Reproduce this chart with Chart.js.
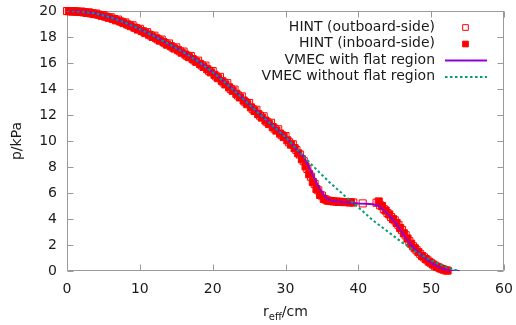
<!DOCTYPE html>
<html>
<head>
<meta charset="utf-8">
<script src="https://cdn.jsdelivr.net/npm/chart.js@4/dist/chart.umd.min.js"></script>
<style>
  html, body { margin: 0; padding: 0; background: #fff; }
  #wrap { width: 516px; height: 325px; }
</style>
</head>
<body>
<div id="wrap"><canvas id="chart"></canvas></div>
<script>
const xTicks = [0, 10, 20, 30, 40, 50, 60];
const yTicks = [0, 2, 4, 6, 8, 10, 12, 14, 16, 18, 20];

const seriesLabels = ['HINT (outboard-side)', 'HINT (inboard-side)', 'VMEC with flat region', 'VMEC without flat region'];

// HINT, outboard side (open squares)
const hintOutR = [0.0, 0.5, 1.0, 1.5, 2.0, 2.5, 3.0, 3.5, 4.0, 4.5, 5.0, 5.5, 6.0, 6.5, 7.0, 7.5, 8.0, 8.5, 9.0, 9.5,
  10.0, 10.5, 11.0, 11.5, 12.0, 12.5, 13.0, 13.5, 14.0, 14.5, 15.0, 15.5, 16.0, 16.5, 17.0, 17.5, 18.0, 18.5, 19.0, 19.5,
  20.0, 20.5, 21.0, 21.5, 22.0, 22.5, 23.0, 23.5, 24.0, 24.5, 25.0, 25.5, 26.0, 26.5, 27.0, 27.5, 28.0, 28.5, 29.0, 29.5,
  30.0, 30.5, 31.0, 31.5, 32.0, 32.5, 33.0, 33.5, 34.0, 34.5, 35.0, 35.5, 36.0, 36.6, 37.3, 38.0, 38.8, 39.3, 40.6,
  42.5, 43.0, 43.5, 44.0, 44.5, 45.0, 45.5, 46.0, 46.5, 47.0, 47.5, 48.0, 48.5, 49.0, 49.5, 50.0, 50.5, 51.0, 51.5, 52.0];
const hintOutP = [20.0, 19.98, 19.99, 19.95, 19.96, 19.9, 19.9, 19.82, 19.81, 19.7, 19.68, 19.55, 19.52, 19.38, 19.34, 19.17, 19.12, 18.93, 18.9, 18.68,
  18.63, 18.42, 18.37, 18.12, 18.1, 17.82, 17.8, 17.52, 17.5, 17.2, 17.2, 16.9, 16.88, 16.55, 16.54, 16.2, 16.18, 15.82, 15.8, 15.4,
  15.38, 14.96, 14.93, 14.5, 14.45, 14.0, 13.95, 13.5, 13.43, 12.98, 12.92, 12.45, 12.4, 11.95, 11.9, 11.45, 11.4, 10.95, 10.9, 10.45,
  10.38, 9.9, 9.75, 9.3, 8.95, 8.45, 7.85, 7.25, 6.7, 6.2, 5.8, 5.5, 5.4, 5.35, 5.32, 5.3, 5.28, 5.27, 5.2,
  5.25, 5.05, 4.75, 4.45, 4.15, 3.9, 3.55, 3.15, 2.75, 2.3, 1.9, 1.6, 1.3, 1.05, 0.82, 0.6, 0.42, 0.28, 0.15, 0.05];

// HINT, inboard side (filled squares)
const hintInR = [0.25, 0.75, 1.25, 1.75, 2.25, 2.75, 3.25, 3.75, 4.25, 4.75, 5.25, 5.75, 6.25, 6.75, 7.25, 7.75, 8.25, 8.75, 9.25, 9.75,
  10.25, 10.75, 11.25, 11.75, 12.25, 12.75, 13.25, 13.75, 14.25, 14.75, 15.25, 15.75, 16.25, 16.75, 17.25, 17.75, 18.25, 18.75, 19.25, 19.75,
  20.25, 20.75, 21.25, 21.75, 22.25, 22.75, 23.25, 23.75, 24.25, 24.75, 25.25, 25.75, 26.25, 26.75, 27.25, 27.75, 28.25, 28.75, 29.25, 29.75,
  30.25, 30.75, 31.25, 31.75, 32.25, 32.75, 33.25, 33.75, 34.25, 34.75, 35.25, 35.75, 36.3, 37.0, 37.6, 38.4, 39.0,
  42.8, 43.25, 43.75, 44.25, 44.75, 45.25, 45.75, 46.25, 46.75, 47.25, 47.75, 48.25, 48.75, 49.25, 49.75, 50.25, 50.75, 51.25, 51.75, 52.25];
const hintInP = [19.98, 19.96, 19.95, 19.92, 19.9, 19.85, 19.82, 19.76, 19.72, 19.63, 19.57, 19.47, 19.4, 19.28, 19.2, 19.07, 18.97, 18.83, 18.72, 18.57,
  18.46, 18.3, 18.18, 18.01, 17.9, 17.72, 17.6, 17.41, 17.3, 17.11, 16.99, 16.79, 16.65, 16.45, 16.3, 16.09, 15.93, 15.7, 15.52, 15.28,
  15.09, 14.83, 14.62, 14.35, 14.13, 13.86, 13.63, 13.35, 13.11, 12.83, 12.59, 12.31, 12.07, 11.8, 11.57, 11.3, 11.07, 10.8, 10.57, 10.3,
  10.05, 9.72, 9.45, 9.05, 8.6, 8.05, 7.45, 6.85, 6.3, 5.85, 5.55, 5.42, 5.38, 5.34, 5.32, 5.3, 5.28,
  5.35, 5.0, 4.65, 4.35, 4.0, 3.7, 3.3, 2.9, 2.5, 2.1, 1.75, 1.45, 1.15, 0.92, 0.7, 0.5, 0.33, 0.2, 0.1, 0.03];

// VMEC with flat region
const vmecFlatR = [0, 1, 2, 3, 4, 5, 6, 7, 8, 9, 10, 11, 12, 13, 14, 15, 16, 17, 18, 19, 20, 21, 22, 23, 24, 25,
  26, 27, 28, 29, 30, 31, 31.5, 32.5, 33.5, 34.5, 35.5, 36, 37, 38, 39, 40, 41, 42, 42.8, 43.5, 44.5,
  45.5, 46.5, 47.5, 48.5, 49.5, 50.5, 51.5, 52.5, 53.9];
const vmecFlatP = [20.0, 19.98, 19.95, 19.88, 19.8, 19.66, 19.5, 19.32, 19.1, 18.86, 18.6, 18.33, 18.05, 17.75, 17.45, 17.15,
  16.82, 16.48, 16.12, 15.72, 15.3, 14.84, 14.36, 13.86, 13.34, 12.82, 12.3, 11.8, 11.3, 10.8, 10.3, 9.7,
  9.38, 8.8, 7.7, 6.5, 5.65, 5.45, 5.35, 5.3, 5.25, 5.2, 5.17, 5.13, 5.0, 4.7, 4.15,
  3.4, 2.55, 1.84, 1.3, 0.85, 0.45, 0.18, 0.04, 0.0];

// VMEC without flat region
const vmecSmoothR = [0, 2, 4, 6, 8, 10, 12, 14, 16, 18, 20, 22, 24, 26, 28, 30, 31, 32, 34, 36, 38, 40,
  42, 44, 46, 48, 50, 52, 53.8];
const vmecSmoothP = [20.0, 19.95, 19.8, 19.5, 19.1, 18.6, 18.05, 17.45, 16.82, 16.12, 15.3, 14.36, 13.34, 12.3, 11.3, 10.3, 9.7,
  9.1, 7.95, 6.85, 5.85, 4.9, 3.9, 3.05, 2.2, 1.45, 0.8, 0.3, 0.0];

const pts = (xs, ys) => xs.map((x, i) => ({ x: x, y: ys[i] }));

const FONT = '"DejaVu Sans", sans-serif';
const FRAME = '#9a9a9a';

// gnuplot-like frame with inward ticks, axis titles and key
const framePlugin = {
  id: 'frame',
  beforeDatasetsDraw(chart) {
    const { ctx, chartArea: a, scales } = chart;
    const L = Math.round(a.left) + 0.5, R = Math.round(a.right) - 0.5;
    const T = Math.round(a.top) + 0.5, B = Math.round(a.bottom) - 0.5;
    const tl = 6;
    ctx.save();
    ctx.strokeStyle = FRAME;
    ctx.lineWidth = 1;
    ctx.beginPath();
    ctx.rect(L, T, R - L, B - T);
    xTicks.forEach(v => {
      const x = Math.round(scales.x.getPixelForValue(v)) + 0.5;
      ctx.moveTo(x, B); ctx.lineTo(x, B - tl);
      ctx.moveTo(x, T); ctx.lineTo(x, T + tl);
    });
    yTicks.forEach(v => {
      const y = Math.round(scales.y.getPixelForValue(v)) + 0.5;
      ctx.moveTo(L, y); ctx.lineTo(L + tl, y);
      ctx.moveTo(R, y); ctx.lineTo(R - tl, y);
    });
    ctx.stroke();
    ctx.restore();
  },
  afterDraw(chart) {
    const { ctx, chartArea: a } = chart;
    ctx.save();
    ctx.fillStyle = '#1a1a1a';
    ctx.font = '14px ' + FONT;
    ctx.translate(17, (a.top + a.bottom) / 2);
    ctx.rotate(-Math.PI / 2);
    ctx.textAlign = 'center';
    ctx.textBaseline = 'middle';
    ctx.fillText('p/kPa', 0, 0);
    ctx.restore();

    ctx.save();
    ctx.fillStyle = '#1a1a1a';
    ctx.textBaseline = 'alphabetic';
    ctx.textAlign = 'left';
    const parts = [['r', 14, 0], ['eff', 10, 4], ['/cm', 14, 0]];
    let w = 0;
    parts.forEach(p => { ctx.font = p[1] + 'px ' + FONT; w += ctx.measureText(p[0]).width; });
    let x = (a.left + a.right) / 2 - w / 2;
    const base = 316;
    parts.forEach(p => {
      ctx.font = p[1] + 'px ' + FONT;
      ctx.fillText(p[0], x, base + p[2]);
      x += ctx.measureText(p[0]).width;
    });
    ctx.restore();

    ctx.save();
    ctx.font = '14px ' + FONT;
    ctx.textAlign = 'right';
    ctx.textBaseline = 'middle';
    const rows = [27, 43.5, 60, 76.5];
    chart.data.datasets.forEach((ds, i) => {
      const y = rows[i];
      ctx.fillStyle = '#1a1a1a';
      ctx.fillText(ds.label, 435, y);
      ctx.save();
      if (ds.showLine) {
        ctx.strokeStyle = ds.borderColor;
        ctx.lineWidth = ds.borderWidth;
        ctx.setLineDash(ds.borderDash || []);
        ctx.beginPath();
        ctx.moveTo(445, y + 0.5);
        ctx.lineTo(487, y + 0.5);
        ctx.stroke();
      } else {
        ctx.strokeStyle = ds.borderColor;
        ctx.fillStyle = ds.backgroundColor;
        ctx.lineWidth = ds.borderWidth;
        Chart.helpers.drawPoint(ctx, { pointStyle: 'rect', radius: 4, borderWidth: ds.borderWidth, rotation: 0 }, 465.5, y + 0.5);
      }
      ctx.restore();
    });
    ctx.restore();
  }
};

new Chart(document.getElementById('chart'), {
  type: 'scatter',
  data: {
    datasets: [
      {
        label: seriesLabels[0],
        data: pts(hintOutR, hintOutP),
        pointStyle: 'rect',
        pointRadius: 5,
        borderColor: '#ff0000',
        backgroundColor: 'rgba(0,0,0,0)',
        borderWidth: 1,
        order: 4,
        clip: false
      },
      {
        label: seriesLabels[1],
        data: pts(hintInR, hintInP),
        pointStyle: 'rect',
        pointRadius: 5,
        borderColor: '#ff0000',
        backgroundColor: '#ff0000',
        borderWidth: 1,
        order: 3,
        clip: false
      },
      {
        label: seriesLabels[2],
        data: pts(vmecFlatR, vmecFlatP),
        showLine: true,
        pointRadius: 0,
        borderColor: '#9400d3',
        borderWidth: 2,
        tension: 0,
        order: 2
      },
      {
        label: seriesLabels[3],
        data: pts(vmecSmoothR, vmecSmoothP),
        showLine: true,
        pointRadius: 0,
        borderColor: '#009e73',
        borderWidth: 2,
        borderDash: [2.5, 2.5],
        tension: 0,
        order: 1
      }
    ]
  },
  options: {
    responsive: true,
    maintainAspectRatio: false,
    animation: false,
    events: [],
    layout: { padding: { top: 11, right: 12, left: 0, bottom: 0 } },
    plugins: { legend: { display: false }, tooltip: { enabled: false } },
    scales: {
      x: {
        type: 'linear',
        min: 0,
        max: 60,
        afterBuildTicks: (s) => { s.ticks = xTicks.map(v => ({ value: v })); },
        afterFit: (s) => { s.height = 54; s.paddingLeft = 0; s.paddingRight = 0; },
        grid: { display: false, drawTicks: false },
        border: { display: false },
        ticks: { color: '#1a1a1a', padding: 10, font: { family: FONT, size: 14 }, maxRotation: 0 }
      },
      y: {
        type: 'linear',
        min: 0,
        max: 20,
        afterBuildTicks: (s) => { s.ticks = yTicks.map(v => ({ value: v })); },
        afterFit: (s) => { s.width = 67; s.paddingTop = 0; s.paddingBottom = 0; },
        grid: { display: false, drawTicks: false },
        border: { display: false },
        ticks: { color: '#1a1a1a', padding: 10, font: { family: FONT, size: 14 } }
      }
    }
  },
  plugins: [framePlugin]
});
</script>
</body>
</html>
